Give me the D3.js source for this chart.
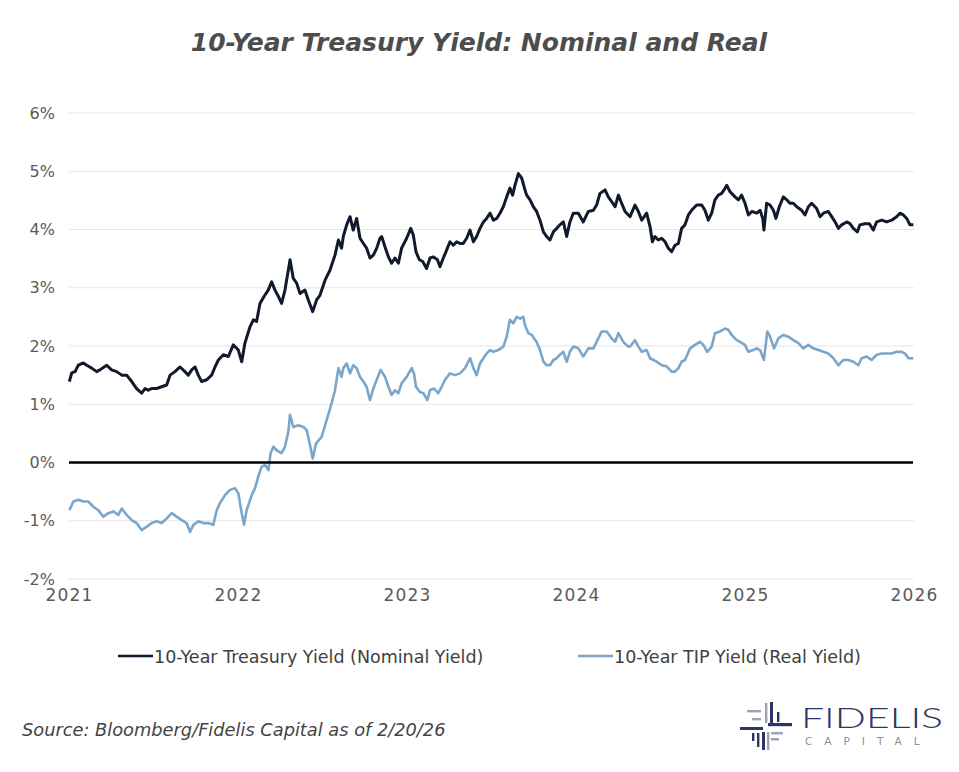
<!DOCTYPE html>
<html><head><meta charset="utf-8">
<script src="https://cdn.jsdelivr.net/npm/d3@7/dist/d3.min.js"></script>
<style>html,body{margin:0;padding:0;background:#fff;}svg{display:block;}</style>
</head><body>
<svg id="chart" width="959" height="772"></svg>
<script>
// ---- DATA (decimal year, yield %) ----
const xTicks = [2021, 2022, 2023, 2024, 2025, 2026];
const yTicks = [-2, -1, 0, 1, 2, 3, 4, 5, 6];
const seriesNames = ["10-Year Treasury Yield (Nominal Yield)", "10-Year TIP Yield (Real Yield)"];

const nominal = [
[2021.002,1.39],[2021.016,1.54],[2021.036,1.56],[2021.055,1.67],[2021.085,1.71],[2021.105,1.67],[2021.134,1.62],
[2021.164,1.56],[2021.183,1.59],[2021.223,1.67],[2021.252,1.59],[2021.282,1.56],[2021.312,1.50],[2021.341,1.50],
[2021.371,1.39],[2021.400,1.27],[2021.430,1.19],[2021.450,1.27],[2021.469,1.24],[2021.489,1.27],[2021.519,1.27],
[2021.548,1.30],[2021.578,1.33],[2021.598,1.50],[2021.627,1.56],[2021.657,1.64],[2021.686,1.56],[2021.706,1.50],
[2021.726,1.59],[2021.746,1.64],[2021.765,1.50],[2021.785,1.39],[2021.815,1.42],[2021.844,1.50],[2021.864,1.64],
[2021.884,1.76],[2021.913,1.85],[2021.943,1.82],[2021.972,2.02],[2022.002,1.93],[2022.022,1.73],[2022.041,2.05],
[2022.071,2.33],[2022.091,2.45],[2022.110,2.42],[2022.130,2.73],[2022.154,2.85],[2022.179,2.96],[2022.199,3.10],
[2022.219,2.96],[2022.239,2.85],[2022.258,2.73],[2022.278,2.96],[2022.308,3.48],[2022.327,3.16],[2022.347,3.08],
[2022.367,2.90],[2022.396,2.96],[2022.416,2.79],[2022.442,2.59],[2022.465,2.79],[2022.485,2.87],[2022.515,3.13],
[2022.544,3.30],[2022.574,3.56],[2022.594,3.82],[2022.613,3.68],[2022.623,3.88],[2022.643,4.08],[2022.663,4.22],
[2022.682,3.99],[2022.702,4.19],[2022.722,3.85],[2022.742,3.76],[2022.761,3.68],[2022.781,3.51],[2022.801,3.56],
[2022.821,3.68],[2022.840,3.85],[2022.850,3.88],[2022.870,3.70],[2022.890,3.53],[2022.909,3.42],[2022.929,3.51],
[2022.949,3.42],[2022.968,3.68],[2022.998,3.85],[2023.022,4.02],[2023.037,3.91],[2023.053,3.62],[2023.073,3.48],
[2023.093,3.45],[2023.116,3.33],[2023.136,3.51],[2023.156,3.53],[2023.180,3.48],[2023.195,3.36],[2023.215,3.51],
[2023.235,3.65],[2023.254,3.79],[2023.274,3.73],[2023.294,3.79],[2023.314,3.76],[2023.333,3.76],[2023.353,3.85],
[2023.373,3.99],[2023.393,3.79],[2023.412,3.88],[2023.432,4.02],[2023.452,4.13],[2023.471,4.19],[2023.491,4.28],
[2023.511,4.16],[2023.531,4.19],[2023.550,4.28],[2023.570,4.39],[2023.590,4.56],[2023.609,4.71],[2023.625,4.59],
[2023.639,4.76],[2023.659,4.96],[2023.679,4.88],[2023.698,4.68],[2023.708,4.59],[2023.728,4.51],[2023.748,4.39],
[2023.767,4.31],[2023.787,4.16],[2023.807,3.96],[2023.826,3.88],[2023.846,3.82],[2023.866,3.96],[2023.886,4.02],
[2023.905,4.08],[2023.925,4.13],[2023.945,3.88],[2023.964,4.13],[2023.984,4.28],[2024.014,4.28],[2024.043,4.13],
[2024.073,4.31],[2024.103,4.33],[2024.122,4.42],[2024.142,4.62],[2024.172,4.68],[2024.191,4.56],[2024.211,4.48],
[2024.231,4.39],[2024.251,4.59],[2024.270,4.45],[2024.290,4.31],[2024.310,4.25],[2024.320,4.22],[2024.349,4.42],
[2024.369,4.31],[2024.389,4.16],[2024.418,4.28],[2024.438,4.05],[2024.452,3.79],[2024.467,3.88],[2024.487,3.82],
[2024.507,3.85],[2024.527,3.79],[2024.546,3.68],[2024.566,3.62],[2024.586,3.73],[2024.606,3.76],[2024.625,4.02],
[2024.645,4.08],[2024.665,4.25],[2024.684,4.33],[2024.714,4.42],[2024.744,4.42],[2024.763,4.33],[2024.783,4.16],
[2024.803,4.28],[2024.822,4.51],[2024.842,4.59],[2024.862,4.62],[2024.876,4.68],[2024.892,4.76],[2024.911,4.65],
[2024.941,4.56],[2024.961,4.51],[2024.980,4.59],[2025.000,4.45],[2025.020,4.25],[2025.040,4.31],[2025.069,4.28],
[2025.089,4.33],[2025.105,4.19],[2025.112,3.99],[2025.128,4.45],[2025.148,4.42],[2025.168,4.33],[2025.183,4.19],
[2025.203,4.39],[2025.227,4.56],[2025.247,4.51],[2025.266,4.45],[2025.286,4.45],[2025.306,4.39],[2025.335,4.33],
[2025.355,4.25],[2025.375,4.39],[2025.394,4.45],[2025.424,4.36],[2025.444,4.22],[2025.464,4.28],[2025.493,4.31],
[2025.513,4.22],[2025.533,4.13],[2025.553,4.02],[2025.572,4.08],[2025.602,4.13],[2025.621,4.10],[2025.641,4.02],
[2025.665,3.96],[2025.680,4.08],[2025.710,4.10],[2025.736,4.10],[2025.759,3.99],[2025.779,4.13],[2025.809,4.16],
[2025.838,4.13],[2025.868,4.16],[2025.897,4.22],[2025.917,4.28],[2025.937,4.25],[2025.957,4.19],[2025.976,4.08],
[2025.996,4.08]
];

const real = [
[2021.002,-0.82],[2021.026,-0.67],[2021.055,-0.64],[2021.085,-0.67],[2021.114,-0.67],[2021.144,-0.76],[2021.174,-0.82],
[2021.203,-0.93],[2021.233,-0.87],[2021.262,-0.84],[2021.292,-0.90],[2021.312,-0.79],[2021.341,-0.90],[2021.371,-0.99],
[2021.400,-1.04],[2021.430,-1.16],[2021.460,-1.10],[2021.489,-1.04],[2021.519,-1.01],[2021.548,-1.04],[2021.578,-0.96],
[2021.608,-0.87],[2021.637,-0.93],[2021.667,-0.99],[2021.696,-1.04],[2021.716,-1.19],[2021.736,-1.07],[2021.765,-1.01],
[2021.795,-1.04],[2021.824,-1.04],[2021.854,-1.07],[2021.874,-0.82],[2021.893,-0.70],[2021.923,-0.56],[2021.953,-0.47],
[2021.982,-0.44],[2022.002,-0.53],[2022.022,-0.87],[2022.036,-1.07],[2022.051,-0.82],[2022.081,-0.56],[2022.101,-0.44],
[2022.120,-0.24],[2022.140,-0.07],[2022.160,-0.04],[2022.180,-0.13],[2022.193,0.16],[2022.209,0.27],[2022.229,0.21],
[2022.258,0.16],[2022.278,0.27],[2022.298,0.53],[2022.308,0.82],[2022.327,0.61],[2022.357,0.64],[2022.387,0.61],
[2022.406,0.56],[2022.426,0.30],[2022.442,0.07],[2022.462,0.33],[2022.495,0.44],[2022.525,0.73],[2022.554,1.02],
[2022.574,1.24],[2022.594,1.62],[2022.613,1.47],[2022.623,1.62],[2022.643,1.70],[2022.663,1.53],[2022.682,1.67],
[2022.702,1.62],[2022.722,1.47],[2022.742,1.39],[2022.761,1.30],[2022.781,1.07],[2022.801,1.27],[2022.821,1.42],
[2022.844,1.59],[2022.870,1.47],[2022.890,1.30],[2022.909,1.16],[2022.929,1.24],[2022.949,1.19],[2022.968,1.36],
[2022.998,1.47],[2023.028,1.62],[2023.041,1.53],[2023.053,1.30],[2023.077,1.21],[2023.097,1.19],[2023.120,1.07],
[2023.136,1.24],[2023.160,1.27],[2023.185,1.19],[2023.205,1.30],[2023.225,1.42],[2023.254,1.53],[2023.284,1.50],
[2023.314,1.53],[2023.343,1.62],[2023.373,1.79],[2023.393,1.62],[2023.412,1.50],[2023.432,1.70],[2023.452,1.79],
[2023.471,1.87],[2023.491,1.93],[2023.511,1.90],[2023.540,1.93],[2023.570,1.99],[2023.590,2.16],[2023.609,2.45],
[2023.629,2.39],[2023.649,2.50],[2023.669,2.47],[2023.688,2.50],[2023.698,2.36],[2023.718,2.22],[2023.738,2.19],
[2023.767,2.07],[2023.787,1.93],[2023.807,1.73],[2023.826,1.67],[2023.846,1.67],[2023.866,1.76],[2023.886,1.79],
[2023.905,1.85],[2023.925,1.90],[2023.945,1.73],[2023.964,1.90],[2023.984,1.99],[2024.014,1.96],[2024.043,1.82],
[2024.073,1.96],[2024.103,1.96],[2024.122,2.07],[2024.152,2.25],[2024.182,2.25],[2024.211,2.13],[2024.231,2.07],
[2024.251,2.22],[2024.280,2.07],[2024.310,1.99],[2024.320,1.99],[2024.349,2.10],[2024.369,1.99],[2024.389,1.90],
[2024.418,1.93],[2024.438,1.79],[2024.458,1.76],[2024.477,1.73],[2024.507,1.67],[2024.536,1.65],[2024.566,1.56],
[2024.586,1.56],[2024.606,1.62],[2024.625,1.73],[2024.645,1.76],[2024.675,1.96],[2024.704,2.02],[2024.734,2.07],
[2024.753,2.02],[2024.777,1.90],[2024.803,1.99],[2024.822,2.22],[2024.852,2.25],[2024.882,2.30],[2024.901,2.28],
[2024.921,2.19],[2024.951,2.10],[2024.970,2.07],[2025.000,2.02],[2025.020,1.90],[2025.049,1.93],[2025.069,1.96],
[2025.089,1.93],[2025.112,1.76],[2025.132,2.25],[2025.148,2.16],[2025.172,1.96],[2025.197,2.13],[2025.227,2.19],
[2025.256,2.16],[2025.286,2.10],[2025.316,2.05],[2025.345,1.96],[2025.375,2.02],[2025.404,1.96],[2025.434,1.93],
[2025.464,1.90],[2025.493,1.87],[2025.523,1.79],[2025.553,1.67],[2025.582,1.76],[2025.612,1.76],[2025.641,1.73],
[2025.671,1.67],[2025.690,1.79],[2025.720,1.82],[2025.749,1.76],[2025.779,1.85],[2025.809,1.87],[2025.838,1.87],
[2025.868,1.87],[2025.897,1.90],[2025.927,1.90],[2025.947,1.87],[2025.967,1.79],[2025.996,1.79]
];

// ---- DRAW ----
const svg = d3.select("#chart");
const W = 959, H = 772;
svg.append("rect").attr("width", W).attr("height", H).attr("fill", "#fff");

const x = d3.scaleLinear().domain([2021, 2026]).range([69, 914]);
const y = d3.scaleLinear().domain([-2, 6]).range([579, 113]);

const tickFont = "'DejaVu Sans', sans-serif";
const grey = "#5a5a5a";

// title
svg.append("text")
  .attr("x", 479).attr("y", 51)
  .attr("text-anchor", "middle")
  .attr("font-family", tickFont)
  .attr("font-weight", "bold")
  .attr("font-style", "italic")
  .attr("font-size", 25)
  .attr("fill", "#4d4d4d")
  .text("10-Year Treasury Yield: Nominal and Real");

// gridlines
const gGrid = svg.append("g");
gGrid.selectAll("line").data(yTicks.filter(d => d !== 0)).join("line")
  .attr("x1", x.range()[0]).attr("x2", x.range()[1])
  .attr("y1", d => y(d)).attr("y2", d => y(d))
  .attr("stroke", "#e6e6e6").attr("stroke-width", 1.2);

// y axis (labels only)
const yAxis = d3.axisLeft(y).tickValues(yTicks).tickSize(0).tickPadding(0)
  .tickFormat(d => d + "%");
const gy = svg.append("g").attr("transform", "translate(55,0)").call(yAxis);
gy.select(".domain").remove();
gy.selectAll("text").attr("font-family", tickFont).attr("font-size", 16).attr("fill", grey);

// x axis (labels only)
const xAxis = d3.axisBottom(x).tickValues(xTicks).tickSize(0).tickPadding(0)
  .tickFormat(d3.format("d"));
const gx = svg.append("g").attr("transform", "translate(0,589)").call(xAxis);
gx.select(".domain").remove();
gx.selectAll("text").attr("font-family", tickFont).attr("font-size", 17)
  .attr("letter-spacing", "1.2px").attr("fill", grey);

// lines
const line = d3.line().x(d => x(d[0])).y(d => y(d[1]));
svg.append("path").datum(real).attr("d", line)
  .attr("fill", "none").attr("stroke", "#7ba6c9").attr("stroke-width", 2.6)
  .attr("stroke-linejoin", "round");
svg.append("path").datum(nominal).attr("d", line)
  .attr("fill", "none").attr("stroke", "#111a2c").attr("stroke-width", 3)
  .attr("stroke-linejoin", "round");

// zero line
svg.append("line")
  .attr("x1", x(2021)).attr("x2", x(2026) - 1)
  .attr("y1", y(0)).attr("y2", y(0))
  .attr("stroke", "#000").attr("stroke-width", 2.4);

// legend
const legend = [
  {name: seriesNames[0], color: "#111a2c", x0: 118},
  {name: seriesNames[1], color: "#7ba6c9", x0: 578}
];
const lg = svg.append("g").selectAll("g").data(legend).join("g")
  .attr("transform", d => `translate(${d.x0},656)`);
lg.append("line").attr("x1", 0).attr("x2", 35).attr("y1", 0).attr("y2", 0)
  .attr("stroke", d => d.color).attr("stroke-width", 2.6);
lg.append("text").attr("x", 36).attr("y", 6.5)
  .attr("font-family", tickFont).attr("font-size", 17.5)
  .attr("fill", "#404040").text(d => d.name);

// source
svg.append("text")
  .attr("x", 22).attr("y", 736)
  .attr("font-family", tickFont).attr("font-style", "italic").attr("font-size", 17.8)
  .attr("fill", "#444").text("Source: Bloomberg/Fidelis Capital as of 2/20/26");

// logo
const logo = svg.append("g");
const navy = "#2e3566", lgray = "#9ea3b3";
const bars = [
  // [x, y, w, h, color]
  [740, 727, 23, 3, navy], [768, 723, 24, 3.2, navy],
  [770, 702, 3, 21, navy], [762, 732, 3, 18, navy],
  [747, 710, 14, 2.4, lgray], [752, 718, 9, 2.4, lgray],
  [765, 703, 2.4, 20, lgray], [777, 712, 2.4, 10, navy],
  [752, 733, 2.4, 8, navy], [757, 733, 2.4, 14, navy],
  [767, 732, 2.4, 18, lgray], [771, 732, 12, 2.4, lgray], [771, 738, 8, 2.4, lgray]
];
logo.selectAll("rect").data(bars).join("rect")
  .attr("x", d => d[0]).attr("y", d => d[1]).attr("width", d => d[2]).attr("height", d => d[3])
  .attr("fill", d => d[4]);
logo.append("text").attr("x", 801).attr("y", 728)
  .attr("font-family", "Lato, 'DejaVu Sans', sans-serif").attr("font-weight", 300)
  .attr("font-size", 28).attr("fill", navy).attr("textLength", 142)
  .attr("lengthAdjust", "spacingAndGlyphs").text("FIDELIS");
logo.append("text").attr("x", 805).attr("y", 745)
  .attr("font-family", "'DejaVu Sans', sans-serif").attr("font-size", 10.5)
  .attr("fill", "#8a8f9c").attr("letter-spacing", "12px").text("CAPITAL");
</script>
</body></html>
